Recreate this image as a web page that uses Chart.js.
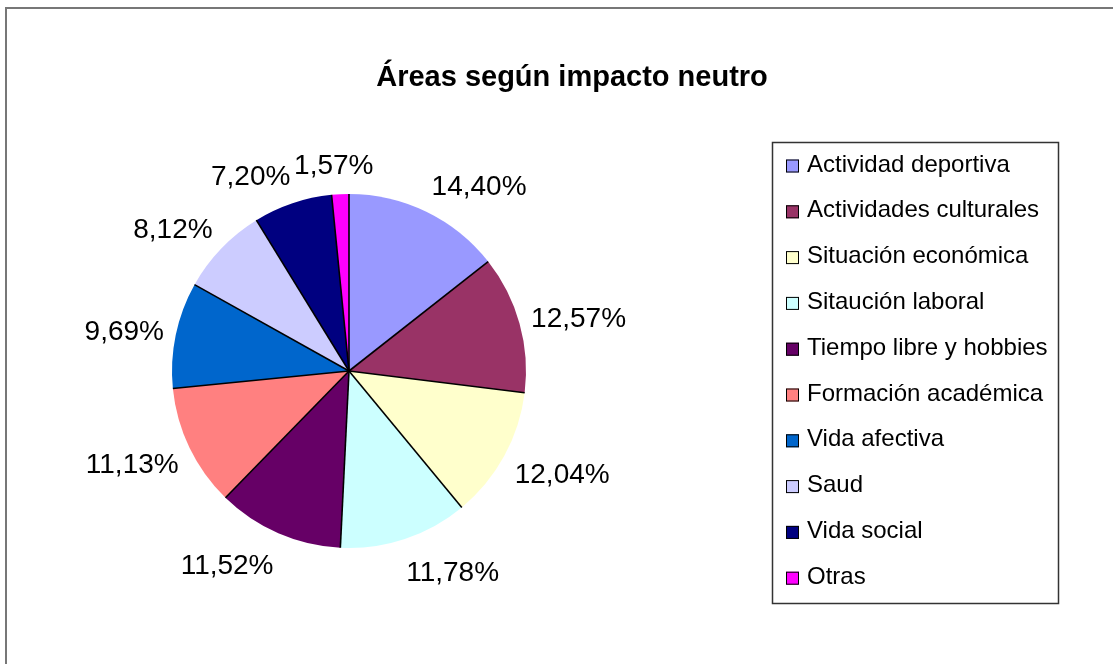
<!DOCTYPE html>
<html lang="es">
<head>
<meta charset="utf-8">
<title>Áreas según impacto neutro</title>
<script src="https://cdn.jsdelivr.net/npm/chart.js@4"></script>
<style>
    html, body { margin: 0; padding: 0; background: #ffffff; }
    #chart { display: block; }
</style>
</head>
<body>
<canvas id="chart" width="1113" height="664"></canvas>
<script>
// Chart data
const chartTitle = 'Áreas según impacto neutro';
const areas = [
    'Actividad deportiva',
    'Actividades culturales',
    'Situación económica',
    'Sitaución laboral',
    'Tiempo libre y hobbies',
    'Formación académica',
    'Vida afectiva',
    'Saud',
    'Vida social',
    'Otras'
];
const percentages = [14.40, 12.57, 12.04, 11.78, 11.52, 11.13, 9.69, 8.12, 7.20, 1.57];
const sliceColors = ['#9999ff', '#993366', '#ffffcc', '#ccffff', '#660066', '#ff8080', '#0066cc', '#ccccff', '#000080', '#ff00ff'];

const fontFamily = '"Liberation Sans", Arial, sans-serif';

function formatPercent(value) {
    return value.toFixed(2).replace('.', ',') + '%';
}

// Draws the frame, the title and the legend box
const decorPlugin = {
    id: 'decor',
    beforeDraw(chart) {
        const ctx = chart.ctx;
        ctx.save();
        ctx.fillStyle = '#ffffff';
        ctx.fillRect(0, 0, chart.width, chart.height);

        // outer frame (top and left edges only are visible)
        ctx.strokeStyle = '#777777';
        ctx.lineWidth = 2;
        ctx.beginPath();
        ctx.moveTo(chart.width, 8);
        ctx.lineTo(6, 8);
        ctx.lineTo(6, chart.height);
        ctx.stroke();

        // title
        ctx.fillStyle = '#000000';
        ctx.font = 'bold 29px ' + fontFamily;
        ctx.textAlign = 'center';
        ctx.textBaseline = 'middle';
        ctx.fillText(chartTitle, 572, 78);
        ctx.restore();
    },
    afterDraw(chart) {
        const ctx = chart.ctx;
        const legendBox = { left: 772.5, top: 142.5, right: 1058.5, bottom: 603.5 };
        ctx.save();
        ctx.strokeStyle = '#333333';
        ctx.lineWidth = 1.5;
        ctx.strokeRect(legendBox.left, legendBox.top, legendBox.right - legendBox.left, legendBox.bottom - legendBox.top);

        ctx.font = '24px ' + fontFamily;
        ctx.textAlign = 'left';
        ctx.textBaseline = 'middle';
        const meta = chart.getDatasetMeta(0);
        chart.data.labels.forEach((label, i) => {
            const cy = 166 + i * 45.8;
            ctx.fillStyle = meta.data[i].options.backgroundColor;
            ctx.fillRect(786, cy - 6.5, 13, 13);
            ctx.strokeStyle = '#000000';
            ctx.lineWidth = 1;
            ctx.strokeRect(786.5, cy - 6, 12, 12);
            ctx.fillStyle = '#000000';
            ctx.fillText(label, 807, cy - 1);
        });
        ctx.restore();
    }
};

// Radial separator lines and outside percentage labels
const sliceLabelPlugin = {
    id: 'sliceLabels',
    afterDatasetsDraw(chart) {
        const ctx = chart.ctx;
        const meta = chart.getDatasetMeta(0);
        const values = chart.data.datasets[0].data;
        ctx.save();

        // separators between slices
        ctx.strokeStyle = '#000000';
        ctx.lineWidth = 1.6;
        meta.data.forEach(arc => {
            ctx.beginPath();
            ctx.moveTo(arc.x, arc.y);
            ctx.lineTo(arc.x + arc.outerRadius * Math.cos(arc.startAngle), arc.y + arc.outerRadius * Math.sin(arc.startAngle));
            ctx.stroke();
        });

        // labels just outside each slice
        ctx.fillStyle = '#000000';
        ctx.font = '28px ' + fontFamily;
        ctx.textAlign = 'center';
        ctx.textBaseline = 'middle';
        meta.data.forEach((arc, i) => {
            const text = formatPercent(values[i]);
            const w = ctx.measureText(text).width;
            const mid = (arc.startAngle + arc.endAngle) / 2;
            const dist = arc.outerRadius + 12;
            const ax = arc.x + dist * Math.cos(mid);
            const ay = arc.y + dist * Math.sin(mid);
            const shift = Math.max(-1, Math.min(1, Math.cos(mid) * 3));
            ctx.fillText(text, ax + shift * w / 2, ay + 20 * Math.sin(mid) + 4);
        });
        ctx.restore();
    }
};

document.addEventListener('DOMContentLoaded', () => {
    const ctx = document.getElementById('chart').getContext('2d');
    new Chart(ctx, {
        type: 'pie',
        data: {
            labels: areas,
            datasets: [{
                data: percentages,
                backgroundColor: sliceColors,
                borderWidth: 0
            }]
        },
        options: {
            responsive: false,
            animation: false,
            layout: {
                padding: { left: 172, top: 194, right: 587, bottom: 116 }
            },
            plugins: {
                legend: { display: false },
                title: { display: false },
                tooltip: { enabled: false }
            }
        },
        plugins: [decorPlugin, sliceLabelPlugin]
    });
});
</script>
</body>
</html>
